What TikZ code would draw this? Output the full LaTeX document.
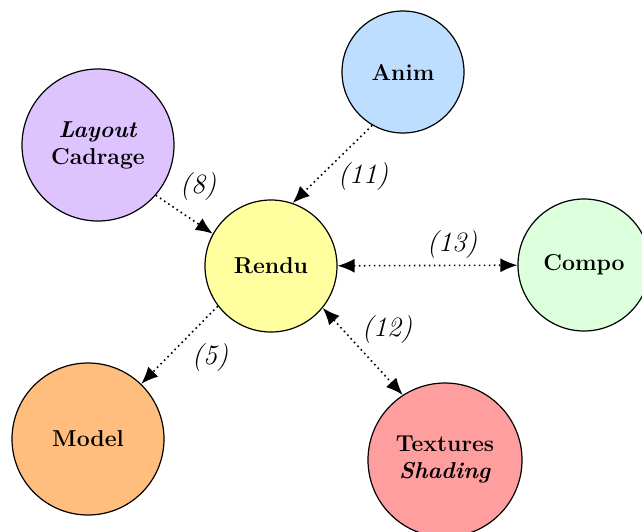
\documentclass[tikz,border=0pt]{standalone}
\usetikzlibrary{arrows.meta}

\definecolor{animblue}{RGB}{190,222,255}
\definecolor{layoutlilac}{RGB}{221,196,255}
\definecolor{renduyellow}{RGB}{255,255,160}
\definecolor{compogreen}{RGB}{220,255,220}
\definecolor{modelorange}{RGB}{255,190,125}
\definecolor{texturered}{RGB}{255,158,158}

\begin{document}
\begin{tikzpicture}[x=1pt,y=-1pt,>={Latex[length=17pt,width=14pt]},->]
	\tikzstyle{vertex}=[circle,draw=black,line width=1.2pt,inner sep=0pt,align=center,font=\fontsize{23}{27}\selectfont\bfseries]
	\tikzstyle{dep}=[line width=1.6pt,dash pattern=on 1.6pt off 3.4pt]
	\tikzstyle{num}=[font=\fontsize{28}{30}\selectfont\itshape,inner sep=0pt]
	\useasboundingbox (0,0) rectangle (642,531);

	\foreach \name/\x/\y/\d/\col/\txt in {Anim/403/72/122/animblue/{Anim}, Layout/98/145/152/layoutlilac/{\textit{Layout}\\Cadrage}, Rendu/271/266/132/renduyellow/{Rendu}, Compo/584/265/132/compogreen/{Compo}, Model/88/439/152/modelorange/{Model}, Textures/445/460/154/texturered/{Textures\\\textit{Shading}}}
	\node[vertex,fill=\col,minimum size=\d pt] (G-\name) at (\x,\y) {\txt};

	\foreach \from/\to in {Layout.-41/Rendu.151, Anim.240/Rendu.71, Rendu.217/Model.46}
	\draw[dep] (G-\from) -- (G-\to);

	\foreach \from/\to in {Rendu/Compo, Rendu.-39/Textures.123}
	\draw[dep,<->] (G-\from) -- (G-\to);

	\foreach \n/\x/\y in {8/198/187, 11/363/177, 13/452/245, 12/387/330, 5/210/358}
	\node[num] (L-\n) at (\x,\y) {(\n)};

\end{tikzpicture}
\end{document}
